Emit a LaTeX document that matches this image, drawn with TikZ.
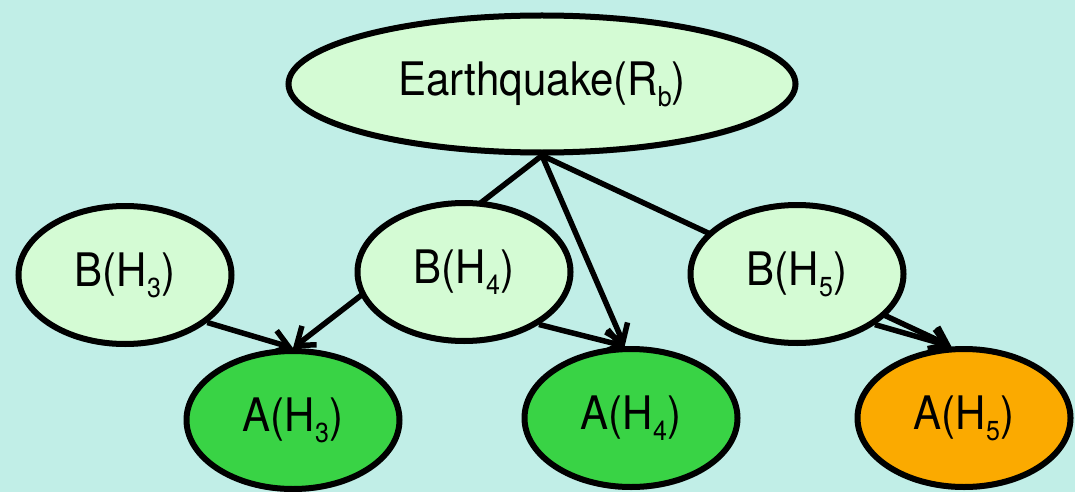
\documentclass[tikz,border=0pt]{standalone}
\usepackage{fontspec}
\setmainfont{TeX Gyre Heros}
\usetikzlibrary{shapes.geometric,arrows.meta,shadows}
\definecolor{bgteal}{RGB}{193,238,231}
\definecolor{palegreen}{RGB}{212,251,212}
\definecolor{nodegreen}{RGB}{57,211,69}
\definecolor{nodeorange}{RGB}{251,170,0}
\newcommand{\lowsub}[1]{\raisebox{-10pt}{\fontsize{25}{25}\selectfont #1}}
\newcommand{\tallt}[1]{\scalebox{1}[1.1]{#1}}
\pgfdeclarelayer{bglayer}
\pgfdeclarelayer{edgelayer}
\pgfsetlayers{bglayer,edgelayer,main}
\tikzset{
  bn/.style={ellipse, draw=black, line width=6pt, inner sep=0pt,
    minimum width=213pt, minimum height=138pt,
    font=\fontsize{42}{50}\selectfont,
    drop shadow={shadow xshift=1pt, shadow yshift=-3pt, opacity=0.25, fill=black}},
  bnode/.style={bn, fill=palegreen},
  gnode/.style={bn, fill=nodegreen},
  onode/.style={bn, fill=nodeorange},
  edge/.style={line width=5.5pt, draw=black,
    -{Straight Barb[length=16pt,width=24pt,line width=5.5pt]}}
}
\begin{document}
\begin{tikzpicture}[x=1pt,y=-1pt]
\begin{pgfonlayer}{bglayer}
\fill[bgteal] (0,0) rectangle (1075,492);
\end{pgfonlayer}
\useasboundingbox (0,0) rectangle (1075,492);

\node[bnode, minimum width=507pt, minimum height=137pt, font=\fontsize{42}{50}\selectfont] (E) at (542,84) {\tallt{Earthquake(R\lowsub{b})}};
\node[bnode] (B3) at (125,275) {\tallt{B(H\lowsub{3})}};
\node[bnode] (B4) at (464,272) {\tallt{B(H\lowsub{4})}};
\node[bnode] (B5) at (797,274) {\tallt{B(H\lowsub{5})}};
\node[gnode] (A3) at (293,420) {\tallt{A(H\lowsub{3})}};
\node[gnode] (A4) at (631,418) {\tallt{A(H\lowsub{4})}};
\node[onode] (A5) at (964,418) {\tallt{A(H\lowsub{5})}};

\begin{pgfonlayer}{edgelayer}
\draw[edge] (E.south) -- (A3.north);
\draw[edge] (E.south) -- (A4.95);
\draw[edge] (E.south) -- (A5.100);
\draw[edge] (B3.-30) -- (A3.north);
\draw[edge] (B4.-35) -- (A4.95);
\draw[edge] (B5.-33) -- (A5.100);
\end{pgfonlayer}
\end{tikzpicture}
\end{document}
